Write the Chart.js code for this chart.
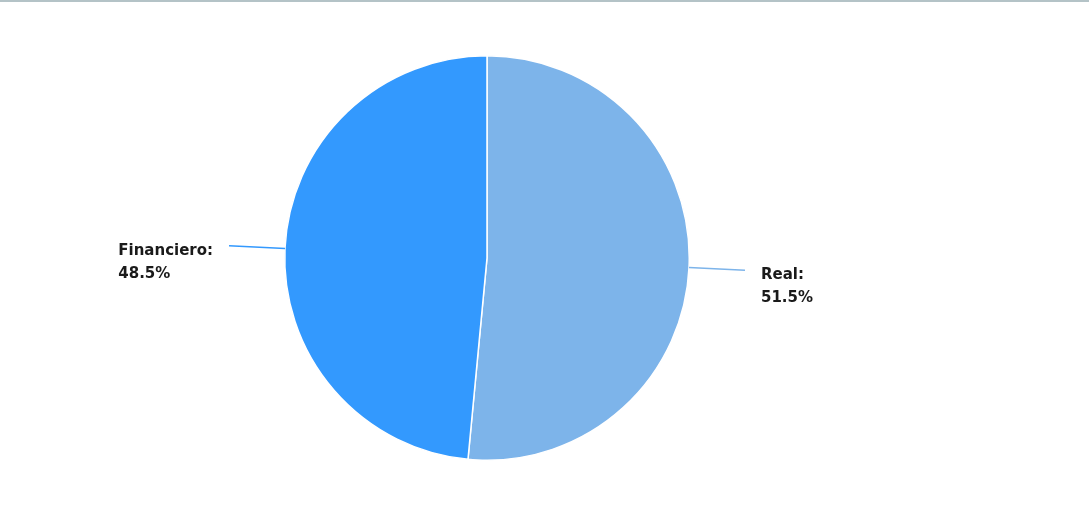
<!DOCTYPE html>
<html>
<head>
<meta charset="utf-8">
<script src="https://cdn.jsdelivr.net/npm/chart.js@4/dist/chart.umd.min.js"></script>
<style>
  html, body { margin: 0; padding: 0; background: #fff; }
  #wrap { position: relative; width: 1089px; height: 513px; }
  #topline { position: absolute; left: 0; top: 0; width: 1089px; height: 2px; background: #b4c3c7; }
  canvas { display: block; }
</style>
</head>
<body>
<div id="wrap">
  <canvas id="chart" width="1089" height="513"></canvas>
  <div id="topline"></div>
</div>
<script>
"use strict";

const LABELS = ["Real", "Financiero"];
const VALUES = [51.5, 48.5];
const COLORS = ["#7db4ea", "#3399fe"];

const LABEL_FONT = "bold 15px 'DejaVu Sans', sans-serif";
const LEADER_LEN = 56;
const TEXT_GAP = 16;
const LINE_HEIGHT = 23;

const calloutPlugin = {
  id: "callouts",
  afterDatasetsDraw(c) {
    const { ctx } = c;
    const meta = c.getDatasetMeta(0);
    meta.data.forEach((arc, i) => {
      const { x, y, startAngle, endAngle, outerRadius } = arc.getProps(["x", "y", "startAngle", "endAngle", "outerRadius"], true);
      const mid = (startAngle + endAngle) / 2;
      const cos = Math.cos(mid);
      const sin = Math.sin(mid);
      const x0 = x + cos * outerRadius;
      const y0 = y + sin * outerRadius;
      const x1 = x + cos * (outerRadius + LEADER_LEN);
      const y1 = y + sin * (outerRadius + LEADER_LEN);
      ctx.save();
      ctx.strokeStyle = COLORS[i];
      ctx.lineWidth = 1.5;
      ctx.beginPath();
      ctx.moveTo(x0, y0);
      ctx.lineTo(x1, y1);
      ctx.stroke();

      // two-line label: name, then percentage
      const lines = [LABELS[i] + ":", VALUES[i].toFixed(1) + "%"];
      ctx.font = LABEL_FONT;
      ctx.fillStyle = "#1a1a1a";
      ctx.textBaseline = "middle";
      ctx.textAlign = "left";
      const maxW = Math.max(...lines.map((t) => ctx.measureText(t).width));
      const tx = cos >= 0 ? x1 + TEXT_GAP : x1 - TEXT_GAP - maxW;
      const ty = y1 + 5;
      lines.forEach((t, k) => ctx.fillText(t, tx, ty + k * LINE_HEIGHT));
      ctx.restore();
    });
  },
};

new Chart(document.getElementById("chart"), {
  type: "pie",
  data: {
    labels: LABELS,
    datasets: [{
      data: VALUES,
      backgroundColor: COLORS,
      borderColor: "#ffffff",
      borderWidth: 1.5,
    }],
  },
  options: {
    responsive: false,
    animation: false,
    layout: { padding: { top: 55, bottom: 52, left: 284, right: 399 } },
    plugins: {
      legend: { display: false },
      tooltip: { enabled: false },
    },
  },
  plugins: [calloutPlugin],
});
</script>
</body>
</html>
